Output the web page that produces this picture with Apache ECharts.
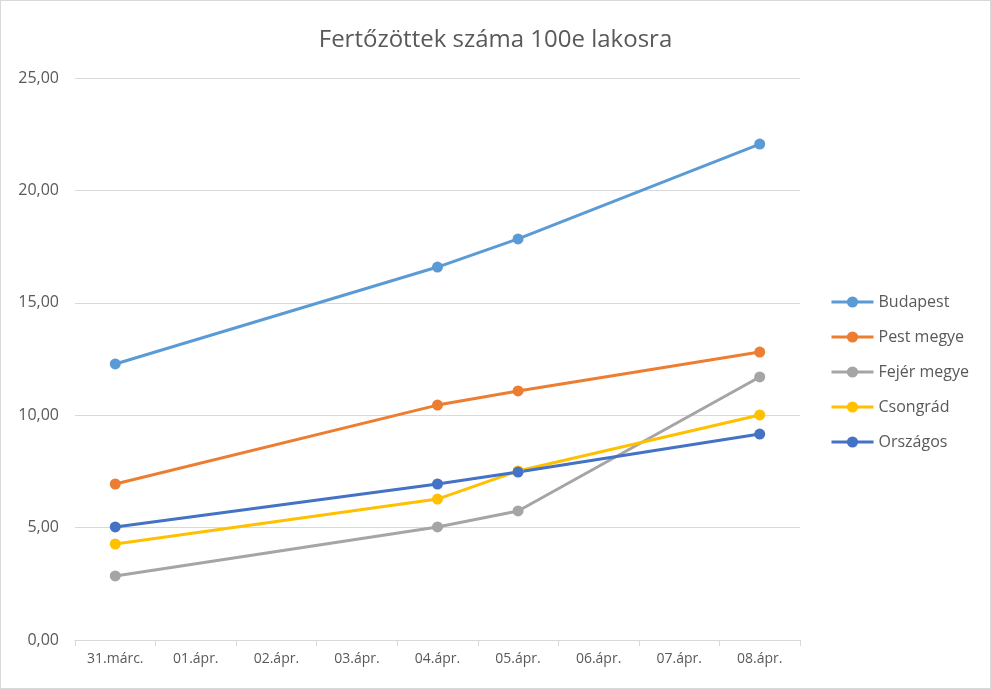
<!DOCTYPE html>
<html><head><meta charset="utf-8">
<script src="https://cdn.jsdelivr.net/npm/echarts@6/dist/echarts.min.js"></script>
<style>html,body{margin:0;padding:0;background:#fff}#c{width:989px;height:687px;border:1px solid #d9d9d9}</style>
</head><body><div id="c"></div>
<script>
const categories = ['31.márc.','01.ápr.','02.ápr.','03.ápr.','04.ápr.','05.ápr.','06.ápr.','07.ápr.','08.ápr.'];
const budapest = [12.28, null, null, null, 16.59, 17.84, null, null, 22.06];
const pestMegye = [6.94, null, null, null, 10.45, 11.08, null, null, 12.81];
const fejerMegye = [2.85, null, null, null, 5.03, 5.74, null, null, 11.70];
const csongrad = [4.27, null, null, null, 6.27, 7.52, null, null, 10.01];
const orszagos = [5.03, null, null, null, 6.94, 7.47, null, null, 9.16];
const seriesNames = ['Budapest','Pest megye','Fejér megye','Csongrád','Országos'];
const colors = ['#5B9BD5','#ED7D31','#A5A5A5','#FFC000','#4472C4'];
const allData = [budapest, pestMegye, fejerMegye, csongrad, orszagos];
const font = '"Open Sans", "Liberation Sans", sans-serif';
const chart = echarts.init(document.getElementById('c'));
chart.setOption({
  animation: false,
  title: {text: 'Fertőzöttek száma 100e lakosra', left: 'center', top: 22,
    textStyle: {fontFamily: font, fontSize: 24, fontWeight: 'normal', color: '#595959'}},
  grid: {left: 74, right: 190, top: 77, bottom: 48},
  legend: {orient: 'vertical', left: 829, top: 293, padding: 0, itemGap: 19, itemWidth: 42, itemHeight: 14,
    data: seriesNames, lineStyle: {width: 3},
    textStyle: {fontFamily: font, fontSize: 16, color: '#595959'}},
  xAxis: {type: 'category', data: categories, boundaryGap: true,
    axisLine: {lineStyle: {color: '#d9d9d9'}},
    axisTick: {show: true, length: 6, lineStyle: {color: '#d9d9d9'}},
    axisLabel: {fontFamily: font, fontSize: 14, color: '#595959', margin: 12, interval: 0}},
  yAxis: {type: 'value', min: 0, max: 25, interval: 5,
    axisLine: {show: false}, axisTick: {show: false},
    splitLine: {lineStyle: {color: '#d9d9d9'}},
    axisLabel: {fontFamily: font, fontSize: 16, color: '#595959', margin: 16,
      formatter: v => v.toFixed(2).replace('.', ',')}},
  series: seriesNames.map((n, i) => ({
    name: n, type: 'line', data: allData[i], connectNulls: true,
    symbol: 'circle', symbolSize: 11,
    lineStyle: {width: 3, color: colors[i]},
    itemStyle: {color: colors[i]}
  }))
});
</script></body></html>
